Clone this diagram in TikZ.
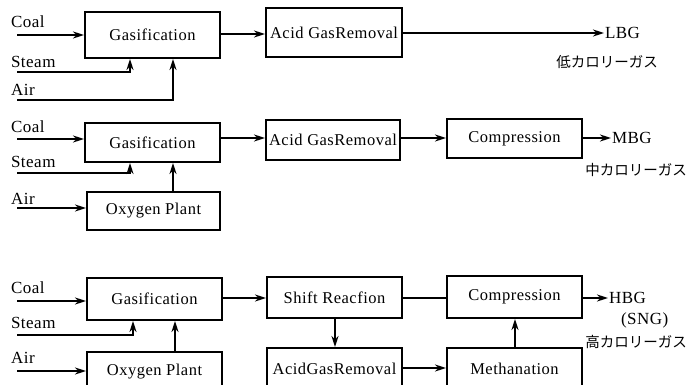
\documentclass[tikz,border=0pt]{standalone}
\usepackage{fontspec}
\setmainfont[LetterSpace=3]{Liberation Serif}
\newfontfamily\jpfont{Noto Sans CJK JP}
\usetikzlibrary{arrows.meta}
\begin{document}
\begin{tikzpicture}[x=1pt,y=-1pt,
  line width=2pt,
  box/.style={draw, rectangle, minimum width=135pt, inner sep=0pt, font=\fontsize{16.5}{18}\selectfont},
  lab/.style={anchor=west, inner sep=0pt, font=\fontsize{17}{19}\selectfont},
  jp/.style={inner sep=0pt, font=\fontsize{14.5}{16}\selectfont\jpfont},
  arr/.style={-{Stealth[length=11pt,width=7pt]}}]
\useasboundingbox (0,0) rectangle (688,385);
\clip (0,0) rectangle (688,385);
% ---------- Row 1 ----------
\node[box, minimum height=46pt] (gas1) at (152.5,35) {Gasification};
\node[box, minimum width=136pt, minimum height=49pt] (agr1) at (334,32.5) {Acid GasRemoval};
\node[lab] (coal1) at (10,22) {Coal};
\node[lab] (steam1) at (10,62) {Steam};
\node[lab] (air1) at (10,90) {Air};
\coordinate (c1) at (17,35);
\coordinate (s1) at (17,72);
\coordinate (a1) at (17,100);
\draw[arr] (c1) -- (c1 -| gas1.west);
\draw[arr] (s1) -| (130,0 |- gas1.south);
\draw[arr] (a1) -| (173,0 |- gas1.south);
\draw[arr] (gas1.east |- 0,34) -- (agr1.west |- 0,34);
\node[lab] (lbg) at (604,33) {LBG};
\node[jp] (lbgj) at (607,62) {低カロリーガス};
\draw[arr] (agr1.east |- 0,33) -- (lbg.west);
% ---------- Row 2 ----------
\node[box, minimum height=39pt] (gas2) at (152.5,142.5) {Gasification};
\node[box, minimum width=133pt, minimum height=38pt] (oxy2) at (153.5,211) {Oxygen Plant};
\node[box, minimum width=134pt, minimum height=40pt] (agr2) at (333,140) {Acid GasRemoval};
\node[box, minimum height=39pt] (comp2) at (514.5,138.5) {Compression};
\node[lab] (coal2) at (10,127) {Coal};
\node[lab] (steam2) at (10,162) {Steam};
\node[lab] (air2) at (10,199) {Air};
\coordinate (c2) at (17,139);
\coordinate (s2) at (17,173);
\coordinate (a2) at (17,208);
\draw[arr] (c2) -- (c2 -| gas2.west);
\draw[arr] (s2) -| (130,0 |- gas2.south);
\draw[arr] (a2) -- (a2 -| oxy2.west);
\draw[arr] (173,0 |- oxy2.north) -- (173,0 |- gas2.south);
\draw[arr] (gas2.east |- 0,138) -- (agr2.west |- 0,138);
\draw[arr] (agr2.east |- 0,138) -- (comp2.west |- 0,138);
\node[lab] (mbg) at (611,138) {MBG};
\node[jp] (mbgj) at (636,170) {中カロリーガス};
\draw[arr] (comp2.east |- 0,138) -- (mbg.west);
% ---------- Row 3 ----------
\node[box, minimum height=42pt] (gas3) at (154.5,299) {Gasification};
\node[box, minimum height=40pt] (oxy3) at (154.5,372) {Oxygen Plant};
\node[box, minimum height=41pt] (shift) at (334.5,297.5) {Shift Reacfion};
\node[box, minimum height=42pt] (comp3) at (514.5,297) {Compression};
\node[box, minimum height=42pt] (agr3) at (334.5,369) {AcidGasRemoval};
\node[box, minimum height=42pt] (meth) at (514.5,369) {Methanation};
\node[lab] (coal3) at (10,288) {Coal};
\node[lab] (steam3) at (10,323) {Steam};
\node[lab] (air3) at (10,358) {Air};
\coordinate (c3) at (17,301);
\coordinate (s3) at (17,335);
\coordinate (a3) at (17,371);
\draw[arr] (c3) -- (c3 -| gas3.west);
\draw[arr] (s3) -| (133,0 |- gas3.south);
\draw[arr] (a3) -- (a3 -| oxy3.west);
\draw[arr] (175,0 |- oxy3.north) -- (175,0 |- gas3.south);
\draw[arr] (gas3.east |- 0,298) -- (shift.west |- 0,298);
\draw (shift.east |- 0,298) -- (comp3.west |- 0,298);
\draw[arr] (335,0 |- shift.south) -- (335,0 |- agr3.north);
\draw[arr] (agr3.east |- 0,368) -- (meth.west |- 0,368);
\draw[arr] (515,0 |- meth.north) -- (515,0 |- comp3.south);
\node[lab] (hbg) at (608,298) {HBG};
\node[lab] (sng) at (620,320) {(SNG)};
\node[jp] (hbgj) at (636,342) {高カロリーガス};
\draw[arr] (comp3.east |- 0,298) -- (hbg.west);
\end{tikzpicture}
\end{document}
